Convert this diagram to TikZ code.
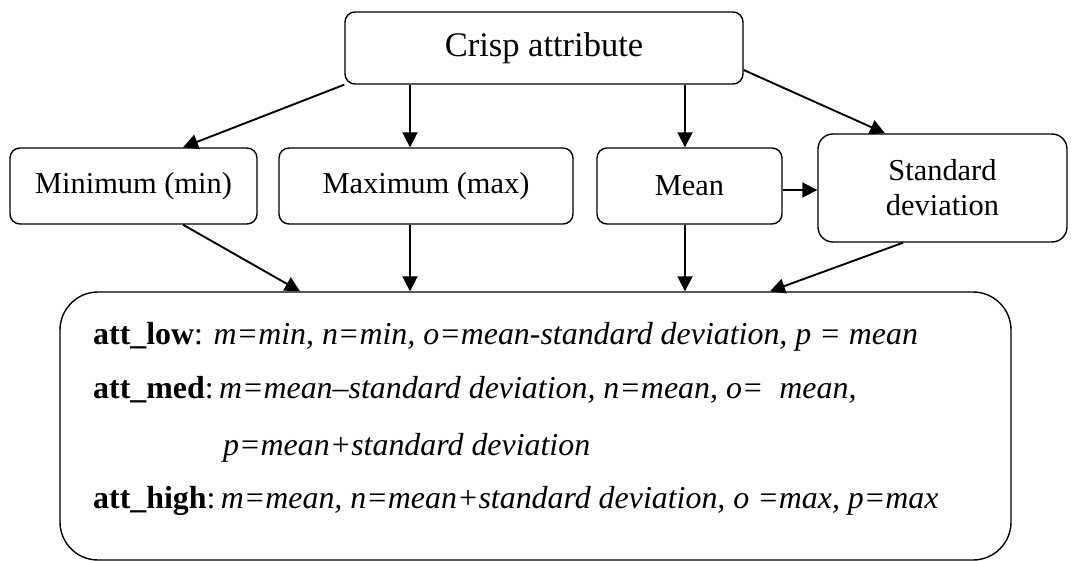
\documentclass[tikz,border=0pt]{standalone}
\usepackage{fontspec}
\setmainfont{Liberation Serif}
\usetikzlibrary{arrows.meta,calc}

\begin{document}
\begin{tikzpicture}[x=1pt,y=-1pt,
  box/.style={draw=black,line width=1.4pt,rounded corners=10pt,inner sep=0pt,align=center},
  arr/.style={line width=1.9pt,-{Triangle[length=15pt,width=15pt]}},
  toptext/.style={font=\fontsize{34.5}{40}\selectfont},
  midtext/.style={font=\fontsize{30.4}{36}\selectfont},
  rule/.style={anchor=base west,inner sep=0pt,font=\fontsize{31.9}{36}\selectfont}
]
\useasboundingbox (0,0) rectangle (1089,561);

% boxes
\node[box,toptext,minimum width=398pt,minimum height=72pt] (crisp) at (544,48) {Crisp attribute};
\node[box,midtext,minimum width=247pt,minimum height=76pt] (min) at (133.5,186) {Minimum (min)};
\node[box,midtext,minimum width=294pt,minimum height=76pt] (max) at (426,186) {Maximum (max)};
\node[box,midtext,minimum width=185pt,minimum height=76pt] (mean) at (689.5,186) {Mean};
\node[box,midtext,rounded corners=15pt,minimum width=249pt,minimum height=108pt] (std) at (942.5,188) {Standard\\[-1pt]deviation};
\node[box,rounded corners=38pt,minimum width=951pt,minimum height=268pt] (rules) at (535.5,426) {};

% membership parameters
\node[rule] (low)  at (93,344) {\textbf{att\_low}: \textit{m=min, n=min, o=mean-standard deviation, p = mean}};
\node[rule] (med)  at (93,398) {\textbf{att\_med}:\,\textit{m=mean–standard deviation, n=mean, o=\ \ mean,}};
\node[rule] (med2) at (223,455) {\textit{p=mean+standard deviation}};
\node[rule] (high) at (93,508) {\textbf{att\_high}:\,\textit{m=mean, n=mean+standard deviation, o =max, p=max}};

% connectors
\coordinate (maxin)  at ([xshift=-16pt]max.north);
\coordinate (maxout) at ([xshift=-16pt]max.south);
\coordinate (meanin)  at ([xshift=-4.5pt]mean.north);
\coordinate (meanout) at ([xshift=-4.5pt]mean.south);

\draw[arr] (crisp.south west) -- ([xshift=49.5pt]min.north);
\draw[arr] (crisp.south -| maxin) -- (maxin);
\draw[arr] (crisp.south -| meanin) -- (meanin);
\draw[arr] ([yshift=-22pt]crisp.east) -- ([xshift=-57.5pt]std.north);
\draw[arr] ([yshift=-4pt]mean.east) -- ([yshift=-2pt]std.west);

\draw[arr] ([xshift=49.5pt]min.south) -- ([xshift=-235.5pt]rules.north);
\draw[arr] (maxout) -- (rules.north -| maxout);
\draw[arr] (meanout) -- (rules.north -| meanout);
\draw[arr] ([xshift=-39.5pt]std.south) -- ([xshift=234.5pt]rules.north);
\end{tikzpicture}
\end{document}
